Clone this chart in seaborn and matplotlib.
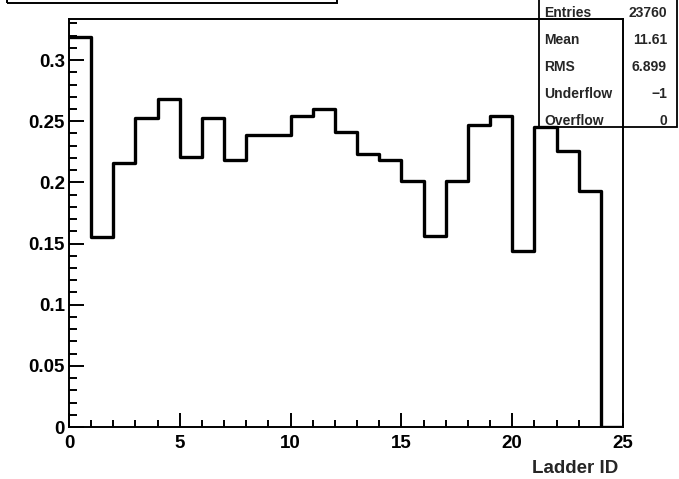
import matplotlib
matplotlib.use("Agg")
import matplotlib.pyplot as plt
from matplotlib.patches import Rectangle
from matplotlib.ticker import MultipleLocator, FuncFormatter
import seaborn as sns

# per-ladder fraction, one bin per ladder (0..24)
ladder_id = list(range(25))
fraction = [0.319, 0.155, 0.216, 0.253, 0.268, 0.221, 0.253, 0.218, 0.239, 0.239,
            0.254, 0.260, 0.241, 0.223, 0.218, 0.201, 0.156, 0.201, 0.247, 0.254,
            0.144, 0.245, 0.226, 0.193, 0.0]
bin_edges = list(range(26))

stat_names = ["Entries", "Mean", "RMS", "Underflow", "Overflow"]
stat_values = ["23760", "11.61", "6.899", "\u22121", "0"]
stat_rows_px = [13, 40, 67, 94, 121]

sns.set_style("ticks")
plt.rcParams['font.family'] = ['Liberation Sans', 'DejaVu Sans']
plt.rcParams['font.weight'] = 'bold'

W, H = 679, 479
fig = plt.figure(figsize=(W / 100, H / 100), dpi=100)
ax = fig.add_axes([69 / W, 52 / H, 554 / W, 408 / H])

sns.histplot(x=ladder_id, weights=fraction, bins=bin_edges, element="step",
             fill=False, color="black", linewidth=2.4, ax=ax)

ax.set_xlim(0, 25)
ax.set_ylim(0, 0.3336)
ax.xaxis.set_major_locator(MultipleLocator(5))
ax.xaxis.set_minor_locator(MultipleLocator(1))
ax.yaxis.set_major_locator(MultipleLocator(0.05))
ax.yaxis.set_minor_locator(MultipleLocator(0.01))
fmt = FuncFormatter(lambda v, p: "%g" % round(v, 4))
ax.xaxis.set_major_formatter(fmt)
ax.yaxis.set_major_formatter(fmt)

ax.tick_params(axis="both", which="both", direction="in", width=1.4, colors="black",
               labelsize=13.5)
ax.tick_params(axis="y", which="major", length=11, pad=3)
ax.tick_params(axis="y", which="minor", length=5.5)
ax.tick_params(axis="x", which="major", length=10, pad=6)
ax.tick_params(axis="x", which="minor", length=5)
for lab in ax.get_xticklabels() + ax.get_yticklabels():
    lab.set_fontweight("bold")

for s in ax.spines.values():
    s.set_linewidth(1.4)
    s.set_color("black")

ax.set_ylabel("")
ax.set_xlabel("Ladder ID", loc="right", fontsize=13.5, fontweight="bold")
ax.xaxis.set_label_coords(1 - 5 / 554, -0.082)

# stats box (top right, partly outside the canvas)
fig.patches.append(Rectangle((539 / W, 1 - 127 / H), 138 / W, 0.3, transform=fig.transFigure,
                             fill=False, edgecolor="black", linewidth=1.3))
# title box cut off at the top
fig.patches.append(Rectangle((7 / W, 1 - 3 / H), 330 / W, 0.2, transform=fig.transFigure,
                             fill=False, edgecolor="black", linewidth=1.4))

for name, val, ypx in zip(stat_names, stat_values, stat_rows_px):
    fig.text(544 / W, 1 - ypx / H, name, ha="left", va="center", fontsize=10, fontweight="bold")
    fig.text(667 / W, 1 - ypx / H, val, ha="right", va="center", fontsize=10, fontweight="bold")

fig.savefig("out.png", dpi=100)
